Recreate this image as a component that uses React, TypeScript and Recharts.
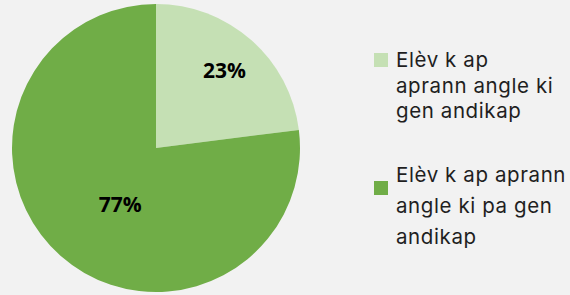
import React from "react";
import { PieChart, Pie, Cell, Legend } from "recharts";

const categories = [
  "Elèv k ap aprann angle ki gen andikap",
  "Elèv k ap aprann angle ki pa gen andikap",
];
const values = [23, 77];
const percentLabels = ["23%", "77%"];
const legendLines = [
  ["Elèv k ap", "aprann angle ki", "gen andikap"],
  ["Elèv k ap aprann", "angle ki pa gen", "andikap"],
];
const colors = ["#c5e0b4", "#70ad47"];

const data = categories.map((name, i) => ({ name, value: values[i] }));

const labelRadius = [0.72, 0.46];
const labelAngleShift = [0, 8.7];
const RAD = Math.PI / 180;

const renderLabel = (props: any) => {
  const { cx, cy, midAngle, outerRadius, index } = props;
  const a = (midAngle + labelAngleShift[index]) * RAD;
  const r = outerRadius * labelRadius[index];
  const x = cx + r * Math.cos(a);
  const y = cy - r * Math.sin(a);
  return (
    <text
      x={x}
      y={y}
      textAnchor="middle"
      dominantBaseline="central"
      fontFamily="Open Sans"
      fontWeight="bold"
      fontSize={21}
      fill="#000"
    >
      {percentLabels[index]}
    </text>
  );
};

const legendLayout = [
  { boxY: 53, firstBaseline: 67, lineHeight: 25.5 },
  { boxY: 181, firstBaseline: 182, lineHeight: 31 },
];

const renderLegend = () => (
  <svg width={200} height={295}>
    {legendLines.map((lines, i) => (
      <g key={i}>
        <rect x={4} y={legendLayout[i].boxY} width={14} height={14} fill={colors[i]} />
        <text fontFamily="Inter" fontSize={20.5} letterSpacing={0.6} fill="#1f1f1f">
          {lines.map((ln, j) => (
            <tspan key={j} x={26} y={legendLayout[i].firstBaseline + j * legendLayout[i].lineHeight}>
              {ln}
            </tspan>
          ))}
        </text>
      </g>
    ))}
  </svg>
);

export default function App() {
  return (
    <div style={{ position: "absolute", left: 0, top: 0, width: 570, height: 295, background: "#f2f2f2" }}>
      <PieChart width={570} height={295} margin={{ top: 0, right: 0, bottom: 0, left: 0 }}>
        <Pie
          data={data}
          dataKey="value"
          nameKey="name"
          cx={156}
          cy={148}
          outerRadius={144}
          startAngle={90}
          endAngle={-270}
          stroke="none"
          label={renderLabel}
          labelLine={false}
          isAnimationActive={false}
        >
          {data.map((d, i) => (
            <Cell key={d.name} fill={colors[i]} />
          ))}
        </Pie>
        <Legend
          content={renderLegend}
          wrapperStyle={{ position: "absolute", left: 370, top: 0, width: 200, height: 295 }}
        />
      </PieChart>
    </div>
  );
}
